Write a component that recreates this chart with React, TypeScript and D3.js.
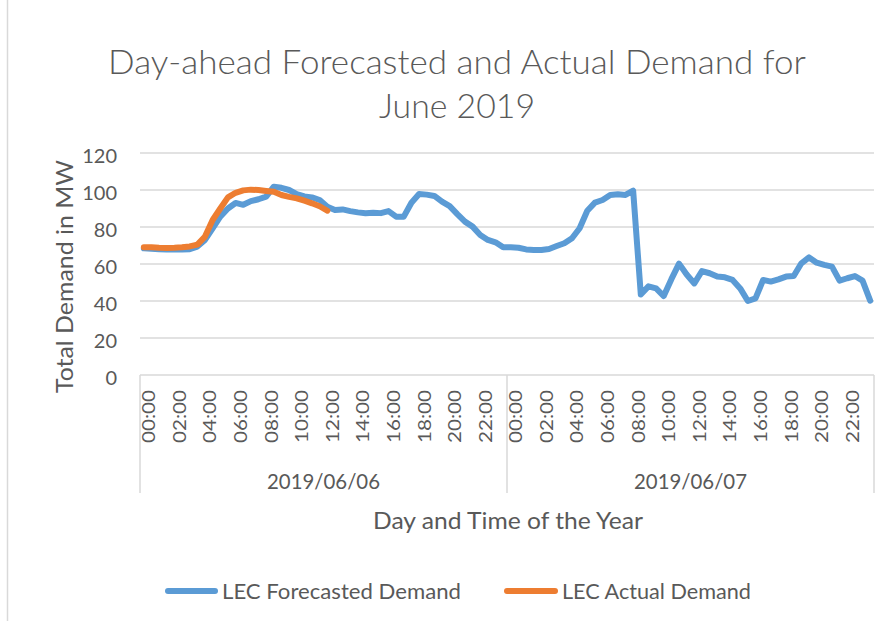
import React from "react";
import * as d3 from "d3";

// half-hourly values, 2019/06/06 then 2019/06/07
const days = ["2019/06/06", "2019/06/07"];
const tickLabels = ["00:00", "02:00", "04:00", "06:00", "08:00", "10:00", "12:00", "14:00", "16:00", "18:00", "20:00", "22:00"];
const yTicks = [0, 20, 40, 60, 80, 100, 120];

const forecastDay1 = [
  68.5, 68.3, 68.0, 67.8, 67.8, 67.8, 68.0, 69.4, 73.0, 79.3, 85.6, 90.0,
  93.0, 92.0, 94.0, 95.0, 96.4, 101.8, 101.2, 100.0, 97.8, 96.5, 96.0, 94.6,
  91.0, 89.2, 89.5, 88.6, 87.9, 87.4, 87.7, 87.5, 88.6, 85.6, 85.6, 93.1,
  97.8, 97.5, 96.8, 93.7, 91.3, 87.0, 82.9, 80.2, 75.7, 73.0, 71.7, 69.0,
];
const forecastDay2 = [
  69.0, 68.8, 67.9, 67.6, 67.6, 68.1, 69.7, 71.2, 73.9, 79.3, 88.8, 93.2,
  94.6, 97.3, 97.7, 97.3, 99.6, 43.5, 47.9, 46.8, 42.7, 51.8, 60.2, 54.3,
  49.5, 56.2, 55.0, 53.2, 52.8, 51.4, 46.8, 40.0, 41.4, 51.4, 50.5, 51.7,
  53.2, 53.5, 60.4, 63.6, 60.7, 59.5, 58.6, 51.0, 52.3, 53.5, 51.0, 40.2,
];
const actualDay1 = [
  69.0, 69.0, 68.8, 68.7, 68.8, 69.0, 69.5, 70.5, 74.8, 83.8, 90.0, 96.0,
  98.5, 99.8, 100.2, 100.0, 99.5, 99.0, 97.3, 96.3, 95.5, 94.2, 92.8, 91.2,
  88.8,
];

const forecast = [...forecastDay1, ...forecastDay2];
const slotsPerDay = forecastDay1.length;

const BLUE = "#5b9bd5";
const ORANGE = "#ed7d31";
const TEXT = "#595959";
const GRID = "#d9d9d9";
const FONT = "Lato, 'Open Sans', sans-serif";

export default function App() {
  const width = 893,
    height = 621;
  const margin = { top: 153, right: 19, bottom: 246, left: 140 };
  const plotBottom = height - margin.bottom;
  const plotRight = width - margin.right;

  const x = d3
    .scaleBand<number>()
    .domain(d3.range(forecast.length))
    .range([margin.left, plotRight])
    .padding(0);
  const cx = (i: number) => (x(i) as number) + x.bandwidth() / 2;

  const y = d3.scaleLinear().domain([0, 120]).range([plotBottom, margin.top]);

  const line = d3
    .line<number>()
    .x((d, i) => cx(i))
    .y((d) => y(d));

  const dayEdges = d3.range(days.length + 1).map((d) =>
    d === days.length ? plotRight : (x(d * slotsPerDay) as number)
  );

  return (
    <svg
      width={width}
      height={height}
      style={{ position: "absolute", left: 0, top: 0, background: "#fff" }}
      fontFamily={FONT}
    >
      <line x1={7.5} x2={7.5} y1={0} y2={height} stroke={GRID} strokeWidth={1.5} />

      <text x={457} y={74} textAnchor="middle" fontSize={34} fontWeight={300} fill={TEXT}
        textLength={698} lengthAdjust="spacingAndGlyphs">
        Day-ahead Forecasted and Actual Demand for
      </text>
      <text x={457} y={118} textAnchor="middle" fontSize={34} fontWeight={300} fill={TEXT}
        textLength={156} lengthAdjust="spacingAndGlyphs">
        June 2019
      </text>

      {/* gridlines */}
      {yTicks.filter((t) => t > 0).map((t) => (
        <line key={t} x1={margin.left} x2={plotRight} y1={y(t)} y2={y(t)}
          stroke={GRID} strokeWidth={1.5} />
      ))}

      {/* y tick labels */}
      {yTicks.map((t) => (
        <text key={t} x={117} y={y(t) + 10} textAnchor="end" fontSize={20} fill={TEXT}>
          {t}
        </text>
      ))}

      <text transform={`translate(73, 276.5) rotate(-90)`} textAnchor="middle"
        fontSize={24} fill={TEXT} textLength={233} lengthAdjust="spacingAndGlyphs">
        Total Demand in MW
      </text>

      {/* category axis */}
      <line x1={margin.left} x2={plotRight} y1={plotBottom} y2={plotBottom}
        stroke={GRID} strokeWidth={1.5} />
      {dayEdges.map((ex, i) => (
        <line key={i} x1={ex} x2={ex} y1={plotBottom} y2={493} stroke={GRID} strokeWidth={1.5} />
      ))}
      {days.map((day, d) => (
        <g key={day}>
          {tickLabels.map((lab, k) => {
            const idx = d * slotsPerDay + k * 4;
            return (
              <text key={lab} transform={`translate(${cx(idx) + 4.5}, 390) rotate(-90)`}
                textAnchor="end" dominantBaseline="central" fontSize={18} fill={TEXT}
                textLength={53} lengthAdjust="spacingAndGlyphs">
                {lab}
              </text>
            );
          })}
          <text x={(dayEdges[d] + dayEdges[d + 1]) / 2} y={489} textAnchor="middle"
            fontSize={21} fill={TEXT} textLength={113} lengthAdjust="spacingAndGlyphs">
            {day}
          </text>
        </g>
      ))}

      <text x={508} y={529} textAnchor="middle" fontSize={24} fill={TEXT}
        textLength={270} lengthAdjust="spacingAndGlyphs">
        Day and Time of the Year
      </text>

      {/* series */}
      <path d={line(forecast) as string} fill="none" stroke={BLUE} strokeWidth={6}
        strokeLinejoin="round" strokeLinecap="round" />
      <path d={line(actualDay1) as string} fill="none" stroke={ORANGE} strokeWidth={6}
        strokeLinejoin="round" strokeLinecap="round" />

      {/* legend */}
      <line x1={168} x2={215} y1={591} y2={591} stroke={BLUE} strokeWidth={6} strokeLinecap="round" />
      <text x={222} y={599} fontSize={22} fill={TEXT} textLength={239} lengthAdjust="spacingAndGlyphs">
        LEC Forecasted Demand
      </text>
      <line x1={507} x2={555} y1={591} y2={591} stroke={ORANGE} strokeWidth={6} strokeLinecap="round" />
      <text x={562} y={599} fontSize={22} fill={TEXT} textLength={189} lengthAdjust="spacingAndGlyphs">
        LEC Actual Demand
      </text>
    </svg>
  );
}
